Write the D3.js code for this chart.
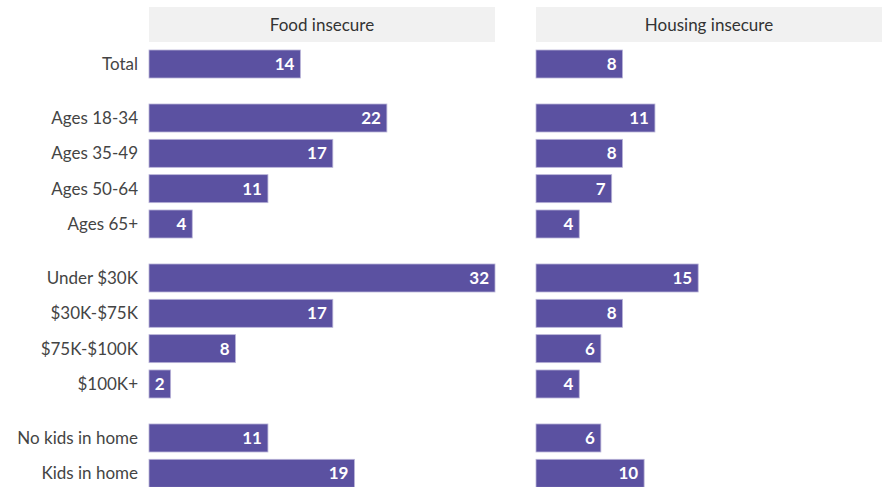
<!DOCTYPE html>
<html><head><meta charset="utf-8">
<script src="https://cdn.jsdelivr.net/npm/d3@7"></script>
<style>body{margin:0;background:#fff;} svg{display:block;}</style>
</head><body>
<script>
const categories = ["Total","Ages 18-34","Ages 35-49","Ages 50-64","Ages 65+","Under $30K","$30K-$75K","$75K-$100K","$100K+","No kids in home","Kids in home"];
const groups = [0,1,1,1,1,2,2,2,2,3,3];
const panels = ["Food insecure","Housing insecure"];
const foodInsecure = [14,22,17,11,4,32,17,8,2,11,19];
const housingInsecure = [8,11,8,7,4,15,8,6,4,6,10];
const seriesValues = [foodInsecure, housingInsecure];

const W=884,H=487;
const svg=d3.select("body").append("svg").attr("width",W).attr("height",H);
const font="'Source Sans Pro', Lato, 'Open Sans', sans-serif";
const panelX=[149,536], panelW=346;
const x=d3.scaleLinear().domain([0,32]).range([0,panelW]);
const step=35.33, gapFrac=18.67/35.33, barH=28;
const y=d3.scaleLinear().domain([0,1]).range([50,50+step]);
const rowY=i=>y(i+groups[i]*gapFrac);

// headers
panels.forEach((p,pi)=>{
  svg.append("rect").attr("x",panelX[pi]).attr("y",7).attr("width",panelW).attr("height",35).attr("fill","#f1f1f1");
  svg.append("text").attr("x",panelX[pi]+panelW/2).attr("y",25).attr("dy","0.35em")
    .attr("text-anchor","middle").attr("font-family",font).attr("font-size",17).attr("fill","#333").text(p);
});
// category labels
svg.selectAll("text.cat").data(categories).enter().append("text").attr("class","cat")
  .attr("x",138).attr("y",(d,i)=>rowY(i)+barH/2).attr("dy","0.35em").attr("text-anchor","end")
  .attr("font-family",font).attr("font-size",17).attr("fill","#444").text(d=>d);

seriesValues.forEach((vals,pi)=>{
  const g=svg.append("g").attr("transform",`translate(${panelX[pi]},0)`);
  g.selectAll("rect").data(vals).enter().append("rect")
    .attr("x",x(0)).attr("y",(d,i)=>rowY(i)).attr("width",d=>x(d)).attr("height",barH)
    .attr("fill","#5b51a1").attr("stroke","#b9b4d8").attr("stroke-width",0.8);
  g.selectAll("text").data(vals).enter().append("text")
    .attr("x",d=>x(d)-6).attr("y",(d,i)=>rowY(i)+barH/2).attr("dy","0.35em").attr("text-anchor","end")
    .attr("font-family",font).attr("font-size",17).attr("font-weight","bold").attr("fill","#fff").text(d=>d);
});
</script>
</body></html>
